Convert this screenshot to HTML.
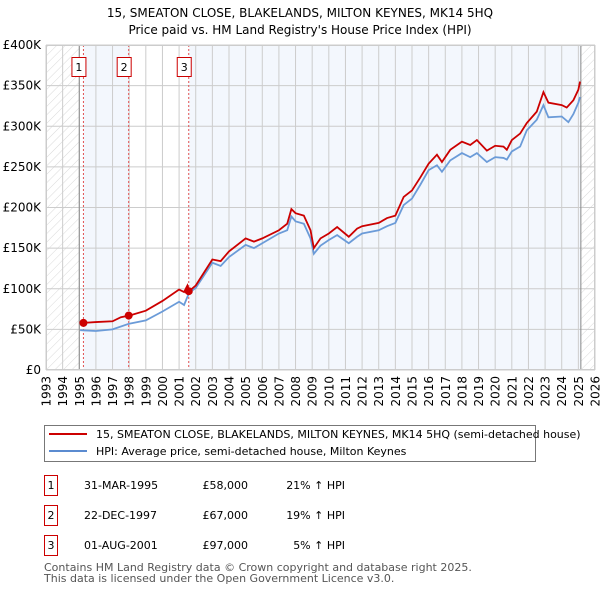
<!DOCTYPE html>
<html><head><meta charset="utf-8"><style>
body{margin:0;background:#fff;font-family:"DejaVu Sans","Liberation Sans",sans-serif;}
svg text{font-family:"DejaVu Sans","Liberation Sans",sans-serif;}
</style></head><body>
<svg id="chart" width="600" height="590" xmlns="http://www.w3.org/2000/svg">
<defs><pattern id="hatch" width="6" height="6" patternUnits="userSpaceOnUse" patternTransform="rotate(45)"><line x1="0" y1="0" x2="0" y2="6" stroke="#d0d0d0" stroke-width="0.8"/></pattern></defs>
<text x="300" y="17" font-size="12" text-anchor="middle">15, SMEATON CLOSE, BLAKELANDS, MILTON KEYNES, MK14 5HQ</text>
<text x="300" y="34" font-size="12" text-anchor="middle">Price paid vs. HM Land Registry's House Price Index (HPI)</text>
<g id="plot"></g>
<g>
<rect x="44.5" y="425.5" width="491" height="36" fill="#fff" stroke="#777"/>
<line x1="49" y1="434" x2="87" y2="434" stroke="#cc0000" stroke-width="2"/>
<text x="96" y="438" font-size="11">15, SMEATON CLOSE, BLAKELANDS, MILTON KEYNES, MK14 5HQ (semi-detached house)</text>
<line x1="49" y1="451" x2="87" y2="451" stroke="#5b8bd0" stroke-width="2"/>
<text x="96" y="455" font-size="11">HPI: Average price, semi-detached house, Milton Keynes</text>
</g>
<g font-size="11">
<rect x="44.5" y="475.5" width="13" height="20" fill="#fff" stroke="#cc0000"/><text x="51" y="489" text-anchor="middle">1</text>
<text x="84" y="489">31-MAR-1995</text><text x="248" y="489" text-anchor="end">£58,000</text><text x="345" y="489" text-anchor="end">21% ↑ HPI</text>
<rect x="44.5" y="505.5" width="13" height="20" fill="#fff" stroke="#cc0000"/><text x="51" y="519" text-anchor="middle">2</text>
<text x="84" y="519">22-DEC-1997</text><text x="248" y="519" text-anchor="end">£67,000</text><text x="345" y="519" text-anchor="end">19% ↑ HPI</text>
<rect x="44.5" y="535.5" width="13" height="20" fill="#fff" stroke="#cc0000"/><text x="51" y="549" text-anchor="middle">3</text>
<text x="84" y="549">01-AUG-2001</text><text x="248" y="549" text-anchor="end">£97,000</text><text x="345" y="549" text-anchor="end">5% ↑ HPI</text>
</g>
<text x="44" y="571" font-size="11" fill="#555">Contains HM Land Registry data © Crown copyright and database right 2025.</text>
<text x="44" y="582" font-size="11" fill="#555">This data is licensed under the Open Government Licence v3.0.</text>
</svg>
<script>
const yTicks=[0,50,100,150,200,250,300,350,400];
const yTickLabels=["£0","£50K","£100K","£150K","£200K","£250K","£300K","£350K","£400K"];
const years=[1993,1994,1995,1996,1997,1998,1999,2000,2001,2002,2003,2004,2005,2006,2007,2008,2009,2010,2011,2012,2013,2014,2015,2016,2017,2018,2019,2020,2021,2022,2023,2024,2025,2026];
const saleDates=[1995.25,1997.97,2001.58];
const salePrices=[58,67,97];
const saleLabels=["1","2","3"];
const hpiDates=[1995.05,1996,1997,1998,1999,2000,2001,2001.3,2001.6,2002,2003,2003.5,2004,2005,2005.5,2006,2007,2007.5,2007.75,2008,2008.5,2008.9,2009.1,2009.5,2010,2010.5,2011.2,2011.7,2012,2013,2013.5,2014,2014.5,2015,2015.5,2016,2016.5,2016.8,2017.3,2018,2018.5,2018.9,2019.5,2020,2020.5,2020.7,2021,2021.5,2021.9,2022.5,2022.9,2023.2,2024,2024.4,2024.7,2025,2025.1];
const hpiValues=[49,48,50,57,61,72,84,80,95,101,132,128,139,154,150,156,168,172,189,183,180,162,143,153,160,166,156,164,168,172,177,181,203,211,228,246,252,244,258,267,262,267,256,262,261,259,269,275,295,308,326,311,312,305,315,329,336];
const priceDates=[1995.25,1996,1997,1997.5,1998,1999,2000,2001,2001.3,2001.5,2001.6,2002,2003,2003.5,2004,2005,2005.5,2006,2007,2007.5,2007.75,2008,2008.5,2008.9,2009.1,2009.5,2010,2010.5,2011.2,2011.7,2012,2013,2013.5,2014,2014.5,2015,2015.5,2016,2016.5,2016.8,2017.3,2018,2018.5,2018.9,2019.5,2020,2020.5,2020.7,2021,2021.5,2021.9,2022.5,2022.9,2023.2,2024,2024.3,2024.7,2025,2025.1];
const priceValues=[58,59,60,65,67,73,85,99,96,104,97,104,136,134,146,162,158,162,172,180,198,193,190,172,150,162,168,176,164,174,177,181,187,190,213,221,237,254,265,256,271,281,277,283,270,276,275,271,283,291,304,318,342,329,326,323,332,345,355];
const X0=46,X1=595,Y0=370,Y1=45;
const xs=y=>X0+(y-1993)*(X1-X0)/33;
const ys=v=>Y0-v*(Y0-Y1)/400;
const NS="http://www.w3.org/2000/svg";
const g=document.getElementById('plot');
function mk(t,a){const e=document.createElementNS(NS,t);for(const k in a)e.setAttribute(k,a[k]);g.appendChild(e);return e;}
let e;
e=mk('rect',{x:X0,y:Y1,width:X1-X0,height:Y0-Y1,fill:'#fff'});


const dataEnd=2025.15;
const bands=[[saleDates[0],saleDates[1]],[saleDates[2],dataEnd]];
bands.forEach(b=>{e=mk('rect',{x:xs(b[0]),y:Y1,width:xs(b[1])-xs(b[0]),height:Y0-Y1,fill:'#eef3fc',opacity:0.7});

});
e=mk('rect',{x:X0,y:Y1,width:xs(1995)-X0,height:Y0-Y1,fill:'url(#hatch)'});


e=mk('rect',{x:xs(dataEnd),y:Y1,width:X1-xs(dataEnd),height:Y0-Y1,fill:'url(#hatch)'});


years.forEach(y=>{e=mk('line',{x1:xs(y),x2:xs(y),y1:Y1,y2:Y0,stroke:'#ccc','stroke-width':1});


e=mk('text',{x:0,y:0,'font-size':12,'text-anchor':'end',transform:`translate(${xs(y)+4.5},${Y0+6}) rotate(-90)`});
e.textContent=y;

});
yTicks.forEach((v,i)=>{e=mk('line',{x1:X0,x2:X1,y1:ys(v),y2:ys(v),stroke:'#ccc','stroke-width':1});


e=mk('text',{x:X0-5,y:ys(v)+4,'font-size':12,'text-anchor':'end'});
e.textContent=yTickLabels[i];

});
e=mk('line',{x1:xs(1995),x2:xs(1995),y1:Y1,y2:Y0,stroke:'#888','stroke-width':1});


e=mk('line',{x1:xs(dataEnd),x2:xs(dataEnd),y1:Y1,y2:Y0,stroke:'#888','stroke-width':1});


saleDates.forEach((d,i)=>{e=mk('line',{x1:xs(d),x2:xs(d),y1:Y1,y2:Y0,stroke:'#e05050','stroke-width':1,'stroke-dasharray':'2,2'});

});
e=mk('polyline',{points:hpiDates.map((d,i)=>xs(d)+','+ys(hpiValues[i])).join(' '),fill:'none',stroke:'#6b9bd8','stroke-width':1.8});


e=mk('polyline',{points:priceDates.map((d,i)=>xs(d)+','+ys(priceValues[i])).join(' '),fill:'none',stroke:'#cc0000','stroke-width':1.8});


saleDates.forEach((d,i)=>{e=mk('circle',{cx:xs(d),cy:ys(salePrices[i]),r:4,fill:'#cc0000'});


e=mk('rect',{x:xs(d)-11.5,y:57.5,width:14,height:19,fill:'#fff',stroke:'#cc0000'});


e=mk('text',{x:xs(d)-4.5,y:71,'font-size':11,'text-anchor':'middle'});
e.textContent=saleLabels[i];

});
e=mk('rect',{x:X0+0.5,y:Y1+0.5,width:X1-X0-1,height:Y0-Y1-1,fill:'none',stroke:'#ccc'});


</script>
</body></html>
